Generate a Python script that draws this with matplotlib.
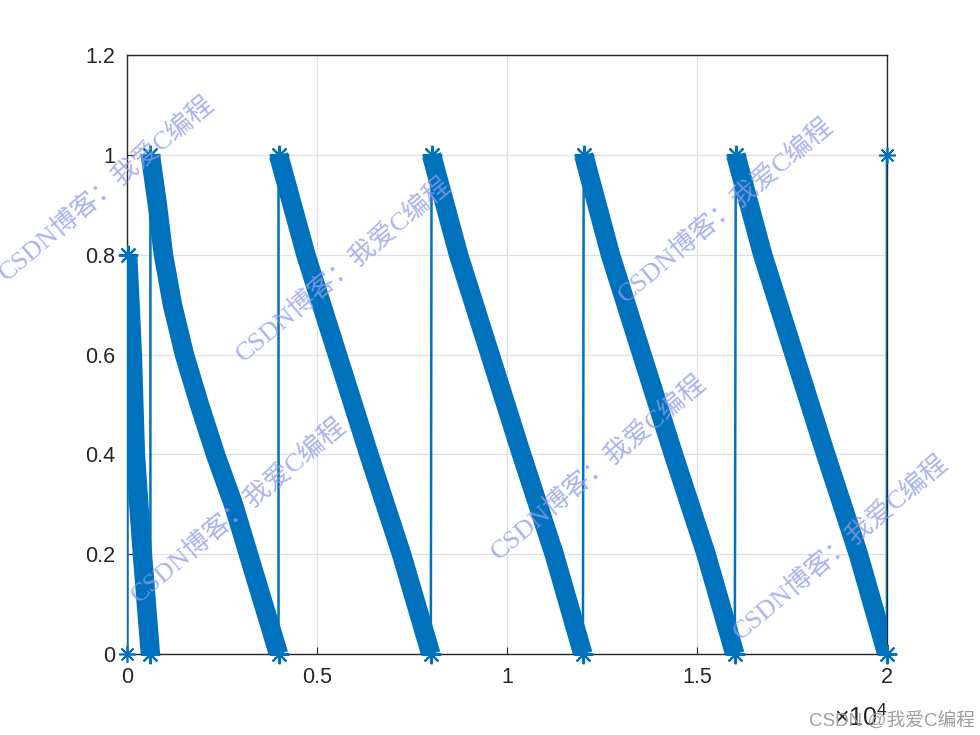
import matplotlib
matplotlib.use("Agg")
import matplotlib.pyplot as plt

plt.rcParams['font.family'] = ['Liberation Sans', 'Noto Sans CJK SC', 'DejaVu Sans']
plt.rcParams['mathtext.fontset'] = 'custom'
plt.rcParams['mathtext.rm'] = 'Liberation Sans'
plt.rcParams['mathtext.it'] = 'Liberation Sans'

# ---- data ----
start_x = [0]
start_y = [0.0]

seg1_x = [5, 70, 130, 170, 210, 300, 395, 500, 606]
seg1_y = [0.8, 0.7, 0.6, 0.5, 0.4, 0.3, 0.2, 0.1, 0.0]

seg2_x = [606, 790, 949, 1186, 1502, 1897, 2319, 2793, 3188, 3584, 3980]
seg2_y = [1.0, 0.9, 0.8, 0.7, 0.6, 0.5, 0.4, 0.3, 0.2, 0.1, 0.0]

seg3_x = [3980, 4700, 5530, 6360, 7220, 7990]
seg3_y = [1.0, 0.8, 0.6, 0.4, 0.2, 0.0]

seg4_x = [8010, 8720, 9550, 10380, 11240, 11995]
seg4_y = [1.0, 0.8, 0.6, 0.4, 0.2, 0.0]

seg5_x = [12016, 12720, 13550, 14380, 15240, 15995]
seg5_y = [1.0, 0.8, 0.6, 0.4, 0.2, 0.0]

seg6_x = [16021, 16730, 17560, 18390, 19250, 20000]
seg6_y = [1.0, 0.8, 0.6, 0.4, 0.2, 0.0]

end_x = [20000]
end_y = [1.0]

x_ticks = [0, 5000, 10000, 15000, 20000]
x_tick_labels = ['0', '0.5', '1', '1.5', '2']
y_ticks = [0, 0.2, 0.4, 0.6, 0.8, 1.0, 1.2]
y_tick_labels = ['0', '0.2', '0.4', '0.6', '0.8', '1', '1.2']

watermark_text = 'CSDN博客：我爱C编程'
watermark_pos = [(106, 188), (343, 269), (725, 210), (238, 510), (598, 467), (840, 547)]

segments = [(seg1_x, seg1_y), (seg2_x, seg2_y), (seg3_x, seg3_y),
            (seg4_x, seg4_y), (seg5_x, seg5_y), (seg6_x, seg6_y)]

all_x = start_x + seg1_x + seg2_x + seg3_x + seg4_x + seg5_x + seg6_x + end_x
all_y = start_y + seg1_y + seg2_y + seg3_y + seg4_y + seg5_y + seg6_y + end_y

# ---- figure ----
W, H = 980, 735
fig = plt.figure(figsize=(9.8, 7.35), dpi=100)
ax = fig.add_axes([0.13, 0.11, 0.775, 0.815])

color = '#0072BD'
asterisk = (8, 2, 0)
ax.plot(all_x, all_y, '-', color=color, lw=1.8, zorder=3)
for sx, sy in segments:
    ax.plot(sx, sy, '-', color=color, lw=14, solid_capstyle='butt',
            solid_joinstyle='round', zorder=3)
    ax.plot([sx[0], sx[-1]], [sy[0], sy[-1]], marker=asterisk, ls='none',
            color=color, ms=14, mew=1.6, zorder=4, clip_on=False)
ax.plot(start_x + end_x, start_y + end_y, marker=asterisk, ls='none',
        color=color, ms=12, mew=1.2, zorder=4, clip_on=False)

ax.set_xlim(0, 20000)
ax.set_ylim(0, 1.2)
ax.set_xticks(x_ticks)
ax.set_xticklabels(x_tick_labels)
ax.set_yticks(y_ticks)
ax.set_yticklabels(y_tick_labels)
ax.tick_params(direction='in', length=5, width=0.8, labelsize=15.5,
               colors='#262626', pad=9)
ax.grid(True, color='#e0e0e0', lw=0.9)
ax.set_axisbelow(True)
for s in ax.spines.values():
    s.set_color('#262626')
    s.set_linewidth(1.0)

fig.text(888 / W, 1 - 726 / H, r'$\times10^{4}$', ha='right', va='baseline',
         fontsize=18, color='#262626')

for (px, py) in watermark_pos:
    fig.text(px / W, 1 - py / H, watermark_text, rotation=40,
             ha='center', va='center', rotation_mode='anchor',
             fontsize=19, color='#8f9bec', alpha=0.75,
             family=['Liberation Serif', 'Noto Sans CJK SC'], zorder=10)

fig.text(975 / W, 1 - 726 / H, 'CSDN @我爱C编程', ha='right', va='baseline',
         fontsize=13.5, color='#a0a0a0', family=['Liberation Sans', 'Noto Sans CJK SC'])

fig.savefig('out.png', dpi=100)
